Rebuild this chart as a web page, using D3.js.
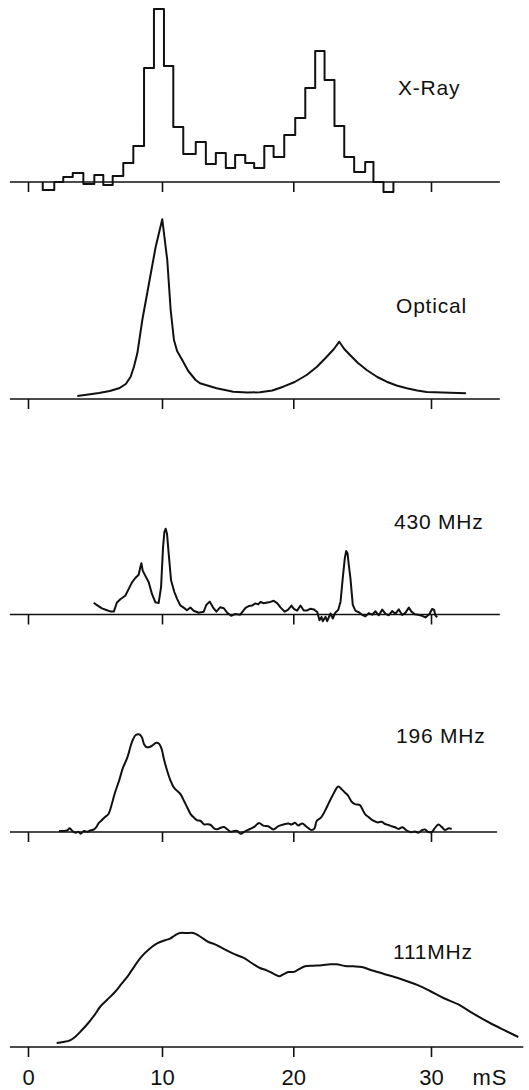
<!DOCTYPE html>
<html>
<head>
<meta charset="utf-8">
<script src="https://cdn.jsdelivr.net/npm/d3@7"></script>
<style>
body{margin:0;background:#fff}
svg{display:block}
text{font-family:"Liberation Sans",Arial,sans-serif;fill:#111}
</style>
</head>
<body>
<script>
// time axis ticks (ms)
const TICKS=[0,10,20,30];
const panelLabels=["X-Ray","Optical","430 MHz","196 MHz","111MHz"];

// X-ray histogram: bin edges (ms) and counts (arbitrary units)
const xrayEdges=[1.10,1.96,2.63,3.34,4.13,4.95,5.62,6.32,7.11,7.86,8.66,9.40,10.15,10.86,11.62,12.57,13.34,14.10,
  14.86,15.57,16.34,17.02,17.79,18.50,19.31,20.14,20.87,21.59,22.27,22.99,23.70,24.42,25.22,25.82,26.55,27.27];
const xrayCounts=[-8,0,5,9,-2,7,-3,6,19,36,114,173,116,55,28,40,18,29,14,27,19,14,36,25,47,64,94,131,102,56,25,10,20,0,-10];

// light curves: [time ms, intensity]
const optical=[[3.68,3],[4.5,4.5],[5.30,6],[6.1,8],[6.79,10.7],[7.3,15],[7.66,22.3],[7.9,32],[8.16,45.7],[8.53,79],
  [9.03,115.7],[9.53,152.3],[10.02,179.7],[10.40,139],[10.66,89],[10.91,59],[11.15,48],[11.54,39],[12.0,28],[12.56,19],
  [12.89,15.7],[14.16,10.7],[15.43,7.3],[16.5,6.5],[17.46,6.7],[18.4,8.5],[19.24,12.3],[20.1,17],[20.97,24],[21.7,32],
  [22.43,42.3],[22.95,50],[23.34,57.3],[23.7,50],[24.12,44],[24.7,36],[25.33,29],[26.1,22],[26.78,17.3],[27.5,13.5],
  [28.24,10.7],[29.0,8.5],[29.69,7],[32.54,5.7]];

const mhz430=[[4.90,11.7],[5.15,9.4],[5.52,6.1],[5.90,4.2],[6.19,2.9],[6.40,2.9],[6.64,12],[6.89,15.3],[7.26,18.7],
  [7.51,25.4],[7.76,32.1],[8.01,36.5],[8.26,39.8],[8.38,47.2],[8.46,51.2],[8.56,43.9],[8.75,38.9],[9.01,32.3],[9.25,20.6],
  [9.50,12.3],[9.75,11.4],[9.93,27.4],[10.08,67.4],[10.18,82.4],[10.28,85.8],[10.38,80.8],[10.51,60.8],[10.69,34.2],
  [10.94,22.5],[11.14,15.9],[11.39,9.2],[11.65,6.9],[11.90,4.3],[12.16,7],[12.41,3.7],[12.80,1.8],[13.18,2.8],[13.37,9.5],
  [13.63,12.9],[13.88,7.2],[14.14,2.9],[14.44,7.3],[14.70,6.3],[14.95,2],[15.26,-1.3],[15.58,0.5],[15.96,-0.2],[16.36,6.7],
  [16.61,8.4],[16.87,9.1],[17.12,11.1],[17.33,10.1],[17.50,12.5],[17.75,11.2],[18.01,11.9],[18.26,12.6],[18.51,13.7],
  [18.77,11.4],[19.02,7.1],[19.35,2.8],[19.61,4.8],[19.86,8.9],[20.04,5.6],[20.28,3.9],[20.52,9],[20.76,4],[21.01,4.1],
  [21.25,5.8],[21.49,5.1],[21.74,2.5],[21.90,-5.8],[22.05,-2.4],[22.14,-6.8],[22.34,-2.4],[22.46,-6.7],[22.70,1],
  [22.87,-4],[23.06,2.1],[23.26,4.4],[23.43,12.8],[23.59,36.1],[23.74,56.2],[23.84,63.5],[23.94,61.2],[24.03,49.5],
  [24.15,36.2],[24.32,9.6],[24.52,3.6],[24.76,2.3],[25.00,-0.3],[25.24,-1.9],[25.48,1.4],[25.73,-0.2],[25.97,3.2],
  [26.21,-0.8],[26.46,4.9],[26.70,0.6],[26.94,-0.7],[27.18,3.4],[27.42,0.8],[27.66,5.1],[27.91,-0.5],[28.15,1.9],
  [28.39,6.9],[28.58,2.9],[28.82,0.3],[29.07,-0.3],[29.36,-1.3],[29.60,-2.9],[29.89,0.5],[30.08,5.5],[30.23,4.5],
  [30.32,-1.1],[30.45,-2.8]];

const mhz196=[[2.31,1],[2.56,1],[2.93,1.7],[3.11,3.7],[3.31,1],[3.56,-0.7],[3.75,0.3],[3.93,-1.7],[4.18,1],[4.43,0.3],
  [4.68,1.7],[4.93,2.7],[5.10,5],[5.30,9.3],[5.50,11.7],[5.75,15],[5.99,17.7],[6.25,27.7],[6.49,39.3],[6.79,51],[7.09,64.3],
  [7.41,74.3],[7.66,86],[7.84,92.7],[8.04,97],[8.28,97.7],[8.49,95],[8.66,87.7],[8.83,85],[9.08,85],[9.33,87],[9.57,89.3],
  [9.78,88.3],[9.98,82.7],[10.15,72.7],[10.40,61],[10.66,51],[10.91,44.3],[11.17,41],[11.42,37.7],[11.68,31],[11.93,24.3],
  [12.19,17.7],[12.44,14.3],[12.69,11.7],[12.95,11],[13.20,7.7],[13.45,7.7],[13.71,7],[13.96,3.7],[14.21,2.7],[14.47,4.3],
  [14.72,5],[14.97,2.7],[15.23,0.3],[15.48,1],[15.73,1],[15.99,-1.7],[16.32,0.7],[16.70,3],[17.08,5.7],[17.39,9.1],
  [17.71,6.4],[18.09,5.8],[18.48,2.5],[18.86,5.8],[19.24,7.5],[19.62,8.5],[19.88,7.5],[20.12,9.2],[20.36,6.6],[20.65,8.6],
  [20.90,6],[21.14,3.3],[21.34,2],[21.53,3.3],[21.70,11],[22.01,14.4],[22.30,21.1],[22.59,29.4],[22.90,37.8],[23.27,45.5],
  [23.51,42.8],[23.75,39.5],[23.99,36.2],[24.24,30.2],[24.48,27.9],[24.84,26.9],[25.01,22.9],[25.21,17.9],[25.50,14.6],
  [25.81,11.3],[26.13,9.6],[26.42,10.3],[26.66,8],[26.90,7],[27.15,5.7],[27.39,4.7],[27.63,3.1],[27.92,4.8],[28.24,1.5],
  [28.55,-0.2],[28.84,0.5],[29.08,-0.8],[29.32,1.6],[29.56,2.6],[29.80,0],[30.05,0],[30.29,4.1],[30.53,7.4],[30.78,5.1],
  [31.02,1.9],[31.26,3.6],[31.50,3.0]];

const mhz111=[[2.14,4],[2.63,5],[3.13,6.7],[3.51,10],[4.01,16.7],[4.50,24],[5.00,32.7],[5.37,40],[5.87,46.7],[6.49,55],
  [6.99,63.3],[7.49,71.7],[7.99,81.7],[8.49,90.7],[8.99,97.3],[9.60,103.3],[10.23,106.7],[10.61,108.3],[10.99,111.7],
  [11.37,114],[11.88,114],[12.38,114],[12.76,111.7],[13.15,108.3],[13.53,105],[14.04,102.7],[14.67,98.3],[15.43,93.3],
  [16.19,89.3],[16.83,84],[17.46,79],[17.97,76.7],[18.48,73.3],[18.93,70.7],[19.24,72.7],[19.62,75],[20.00,75],[20.36,77.3],
  [20.85,80.7],[21.45,81.3],[22.06,81.7],[22.67,82.7],[23.15,82.7],[23.75,81],[24.36,80.7],[24.97,80],[25.57,77.3],
  [26.54,73.3],[27.75,68.3],[29.08,61.7],[29.93,56],[30.90,49],[32.11,41.7],[33.08,33.3],[34.29,24],[35.25,17.3],[36.34,10]];

const w=529;
const h=1090;
const baselines=[182,399,614.5,832,1047];
const labelPos=[[398,95],[396,313],[394,529],[396,743],[393,959]];
const lineEnd=[35,35,35,34.8,36.7];

const svg=d3.select("body").append("svg").attr("width",w).attr("height",h);

// hand-drawn time axis: tick spacing is not quite even
const x=d3.scaleLinear().domain([0,10,20,30,37]).range([28,162,293.3,431,527.4]);

const histPoints=[[xrayEdges[0],0]]
  .concat(xrayCounts.map((c,i)=>[xrayEdges[i],c]))
  .concat([[xrayEdges[xrayEdges.length-1],0]]);

const series=[
  {data:histPoints,curve:d3.curveStepAfter},
  {data:optical,curve:d3.curveLinear},
  {data:mhz430,curve:d3.curveLinear},
  {data:mhz196,curve:d3.curveCatmullRom},
  {data:mhz111,curve:d3.curveCatmullRom}
];

series.forEach((s,i)=>{
  const base=baselines[i];
  const y=d3.scaleLinear().domain([0,180]).range([base,base-180]);
  const g=svg.append("g");

  g.append("line")
    .attr("x1",x(-1.35)).attr("x2",x(lineEnd[i]))
    .attr("y1",y(0)).attr("y2",y(0))
    .attr("stroke","#111").attr("stroke-width",1.6);

  const axis=d3.axisBottom(x)
    .tickValues(TICKS)
    .tickSize(10)
    .tickPadding(12)
    .tickFormat(i===4 ? d3.format("d") : ()=>"");
  g.append("g")
    .attr("transform",`translate(0,${base})`)
    .call(axis)
    .call(a=>a.select(".domain").remove())
    .call(a=>a.selectAll("line").attr("stroke","#111").attr("stroke-width",1.6))
    .call(a=>a.selectAll("text").style("font-size","22px").attr("fill","#111"));

  const line=d3.line().x(d=>x(d[0])).y(d=>y(d[1])).curve(s.curve);
  g.append("path")
    .attr("d",line(s.data))
    .attr("fill","none")
    .attr("stroke","#111")
    .attr("stroke-width",2)
    .attr("stroke-linejoin","round");

  g.append("text")
    .text(panelLabels[i])
    .attr("x",labelPos[i][0])
    .attr("y",labelPos[i][1])
    .style("font-size","21px")
    .style("letter-spacing","0.8px");
});

svg.append("text")
  .text("mS")
  .attr("x",490)
  .attr("y",1085)
  .attr("text-anchor","middle")
  .style("font-size","22px")
  .style("letter-spacing","1px");
</script>
</body>
</html>
